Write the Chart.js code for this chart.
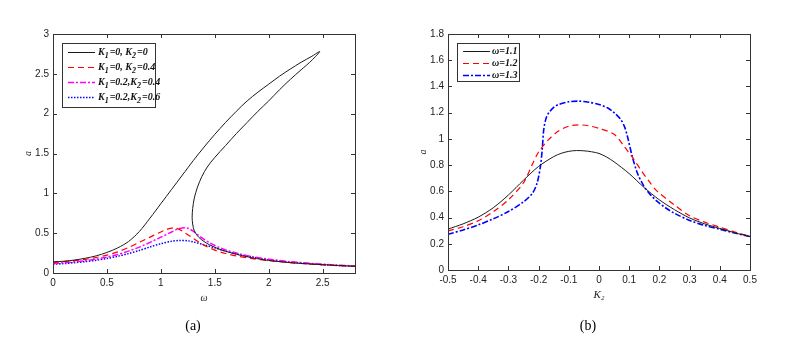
<!DOCTYPE html>
<html><head><meta charset="utf-8">
<script src="https://cdn.jsdelivr.net/npm/chart.js@4.4.0/dist/chart.umd.min.js"></script>
<style>
html,body{margin:0;padding:0;background:#fff;}
#wrap{position:relative;width:794px;height:339px;overflow:hidden;background:#fff;}
.cv{position:absolute;top:0;width:397px;height:339px;}
.cap{position:absolute;font-family:"Liberation Serif","Times New Roman",serif;font-size:14px;color:#000;transform:translate(-50%,-50%);white-space:nowrap;}
</style></head><body>
<div id="wrap">
<div class="cv" style="left:0"><canvas id="ca" width="397" height="339"></canvas></div>
<div class="cv" style="left:397px"><canvas id="cb" width="397" height="339"></canvas></div>
<div class="cap" style="left:193px;top:326px">(a)</div>
<div class="cap" style="left:588px;top:326px">(b)</div>
</div>
<script>
// ---------- Chart (a): amplitude a vs frequency omega ----------
const labelsA = ["K₁=0, K₂=0", "K₁=0, K₂=0.4", "K₁=0.2,K₂=0.4", "K₁=0.2,K₂=0.6"];
const omegaA1 = [0,0.1,0.2,0.3,0.4,0.5,0.6,0.7,0.8,0.9,1.0,1.1,1.2,1.3,1.4,1.5,1.6,1.7,1.8,1.9,2.0,2.1,2.2,2.3,2.4,2.473,
                 2.4,2.3,2.2,2.1,2.0,1.9,1.8,1.7,1.6,1.5,1.43,1.38,1.34,1.31,1.295,1.29,1.295,1.31,1.35,1.4,1.45,1.55,1.7,1.85,2.0,2.2,2.4,2.6,2.8];
const ampA1   = [0.14,0.148,0.163,0.185,0.215,0.258,0.315,0.395,0.52,0.69,0.87,1.05,1.23,1.41,1.58,1.74,1.89,2.03,2.16,2.27,2.37,2.47,2.56,2.645,2.72,2.78,
                 2.67,2.55,2.43,2.30,2.16,2.03,1.89,1.75,1.60,1.45,1.33,1.21,1.08,0.94,0.81,0.70,0.615,0.53,0.45,0.395,0.355,0.295,0.235,0.19,0.158,0.13,0.112,0.097,0.084];
const omegaA2 = [0,0.1,0.2,0.3,0.4,0.5,0.6,0.7,0.8,0.9,1.0,1.05,1.1,1.13,1.2,1.25,1.3,1.35,1.4,1.5,1.6,1.7,1.85,2.0,2.2,2.4,2.6,2.8];
const ampA2   = [0.133,0.142,0.155,0.172,0.195,0.225,0.265,0.32,0.385,0.45,0.515,0.545,0.563,0.567,0.525,0.48,0.435,0.39,0.35,0.287,0.245,0.215,0.18,0.155,0.13,0.11,0.095,0.083];
const omegaA3 = [0,0.1,0.2,0.3,0.4,0.5,0.6,0.7,0.8,0.9,1.0,1.1,1.15,1.2,1.25,1.3,1.35,1.4,1.45,1.5,1.6,1.7,1.85,2.0,2.2,2.4,2.6,2.8];
const ampA3   = [0.12,0.128,0.14,0.155,0.175,0.20,0.233,0.275,0.325,0.385,0.45,0.515,0.548,0.566,0.562,0.525,0.472,0.422,0.38,0.345,0.29,0.25,0.205,0.173,0.142,0.12,0.102,0.088];
const omegaA4 = [0,0.1,0.2,0.3,0.4,0.5,0.6,0.7,0.8,0.9,1.0,1.1,1.17,1.25,1.3,1.4,1.5,1.6,1.7,1.85,2.0,2.2,2.4,2.6,2.8];
const ampA4   = [0.11,0.118,0.13,0.143,0.16,0.183,0.21,0.243,0.283,0.327,0.368,0.398,0.408,0.404,0.39,0.355,0.315,0.275,0.24,0.20,0.165,0.135,0.115,0.098,0.085];
const ticksAX = [0,0.5,1,1.5,2,2.5];
const ticksAY = [0,0.5,1,1.5,2,2.5,3];

// ---------- Chart (b): amplitude a vs K2 ----------
const labelsB = ["ω=1.1", "ω=1.2", "ω=1.3"];
const k2B1  = [-0.5,-0.45,-0.4,-0.35,-0.3,-0.25,-0.2,-0.15,-0.125,-0.1,-0.075,-0.05,-0.025,0,0.025,0.05,0.1,0.15,0.2,0.25,0.3,0.35,0.4,0.45,0.5];
const ampB1 = [0.312,0.352,0.403,0.475,0.572,0.685,0.79,0.865,0.89,0.905,0.911,0.909,0.902,0.889,0.862,0.825,0.735,0.628,0.535,0.46,0.397,0.352,0.317,0.284,0.255];
const k2B2  = [-0.5,-0.45,-0.4,-0.35,-0.3,-0.25,-0.222,-0.2,-0.167,-0.134,-0.1,-0.067,-0.034,0,0.05,0.083,0.116,0.138,0.166,0.193,0.249,0.3,0.35,0.4,0.45,0.5];
const ampB2 = [0.298,0.33,0.375,0.445,0.536,0.665,0.80,0.9,0.995,1.06,1.097,1.107,1.10,1.08,1.035,0.944,0.842,0.765,0.676,0.60,0.497,0.413,0.365,0.327,0.29,0.255];
const k2B3  = [-0.5,-0.45,-0.4,-0.35,-0.3,-0.25,-0.22,-0.205,-0.194,-0.188,-0.183,-0.175,-0.166,-0.15,-0.133,-0.1,-0.067,-0.034,0,0.028,0.05,0.072,0.085,0.094,0.11,0.127,0.149,0.17,0.193,0.22,0.249,0.3,0.35,0.4,0.45,0.5];
const ampB3 = [0.273,0.305,0.344,0.39,0.446,0.52,0.587,0.663,0.79,0.918,1.07,1.16,1.20,1.24,1.263,1.283,1.288,1.28,1.263,1.237,1.2,1.148,1.09,1.02,0.867,0.74,0.638,0.575,0.523,0.475,0.434,0.378,0.34,0.311,0.282,0.255];
const ticksBX = [-0.5,-0.4,-0.3,-0.2,-0.1,0,0.1,0.2,0.3,0.4,0.5];
const ticksBY = [0,0.2,0.4,0.6,0.8,1,1.2,1.4,1.6,1.8];

const pts = (xs, ys) => xs.map((x, i) => ({x: x, y: ys[i]}));
const fmt = v => String(Number(v.toFixed(3)));

const SUB = {'₀':'0','₁':'1','₂':'2','₃':'3','₄':'4','₅':'5','₆':'6','₇':'7','₈':'8','₉':'9'};
function drawSubText(ctx, text, x, y, size, style) {
  let cx = x;
  ctx.textBaseline = 'middle';
  ctx.textAlign = 'left';
  for (const ch of text) {
    if (SUB[ch]) {
      ctx.font = style + ' ' + Math.round(size * 0.8) + 'px "Liberation Serif", serif';
      ctx.fillText(SUB[ch], cx, y + size * 0.35);
      cx += ctx.measureText(SUB[ch]).width + 1;
    } else {
      ctx.font = style + ' ' + size + 'px "Liberation Serif", serif';
      ctx.fillText(ch, cx, y);
      cx += ctx.measureText(ch).width;
    }
  }
}

const boxTicks = {
  id: 'boxTicks',
  afterDatasetsDraw(chart) {
    const {ctx, chartArea: a, scales} = chart;
    const L = 4;
    ctx.save();
    ctx.strokeStyle = '#333';
    ctx.lineWidth = 1;
    ctx.setLineDash([]);
    ctx.beginPath();
    scales.x.ticks.forEach(t => {
      const px = Math.round(scales.x.getPixelForValue(t.value)) + 0.5;
      ctx.moveTo(px, a.bottom); ctx.lineTo(px, a.bottom - L);
      ctx.moveTo(px, a.top); ctx.lineTo(px, a.top + L);
    });
    scales.y.ticks.forEach(t => {
      const py = Math.round(scales.y.getPixelForValue(t.value)) + 0.5;
      ctx.moveTo(a.left, py); ctx.lineTo(a.left + L, py);
      ctx.moveTo(a.right, py); ctx.lineTo(a.right - L, py);
    });
    ctx.stroke();
    ctx.strokeRect(Math.round(a.left) + 0.5, Math.round(a.top) + 0.5, Math.round(a.right - a.left), Math.round(a.bottom - a.top));
    ctx.restore();
  }
};

const boxLegend = {
  id: 'boxLegend',
  afterDraw(chart, args, o) {
    const ctx = chart.ctx, a = chart.chartArea;
    const x0 = Math.round(a.left + o.dx), y0 = Math.round(a.top + o.dy);
    ctx.save();
    ctx.fillStyle = '#fff';
    ctx.fillRect(x0, y0, o.w, o.h);
    ctx.strokeStyle = '#333'; ctx.lineWidth = 1;
    ctx.strokeRect(x0 + 0.5, y0 + 0.5, o.w, o.h);
    chart.data.datasets.forEach((ds, i) => {
      const y = Math.round(y0 + o.first + i * o.step) + 0.5;
      ctx.beginPath();
      ctx.strokeStyle = ds.borderColor;
      ctx.lineWidth = ds.borderWidth;
      ctx.setLineDash(ds.borderDash || []);
      ctx.moveTo(x0 + o.lx0, y); ctx.lineTo(x0 + o.lx1, y);
      ctx.stroke();
      ctx.setLineDash([]);
      ctx.fillStyle = '#111';
      drawSubText(ctx, ds.label, x0 + o.tx, y, o.size, o.style);
    });
    ctx.restore();
  }
};

function makeChart(id, datasets, cfg) {
  return new Chart(document.getElementById(id), {
    type: 'scatter',
    data: {datasets: datasets},
    plugins: [boxTicks, boxLegend],
    options: {
      responsive: false,
      animation: false,
      devicePixelRatio: 1,
      layout: {padding: cfg.pad},
      elements: {point: {radius: 0, hoverRadius: 0}, line: {fill: false}},
      plugins: {legend: {display: false}, tooltip: {enabled: false}, boxLegend: cfg.legend},
      scales: {
        x: {
          type: 'linear', min: cfg.xr[0], max: cfg.xr[1],
          afterBuildTicks: s => { s.ticks = cfg.xt.map(v => ({value: v})); },
          afterFit: s => { s.height = cfg.xH; },
          grid: {display: false, drawTicks: false},
          border: {display: false},
          ticks: {callback: fmt, padding: 4, maxRotation: 0, autoSkip: false, color: '#222', font: {family: '"Liberation Sans", Arial, sans-serif', size: 10}},
          title: {display: true, text: cfg.xTitle, padding: 0, color: '#222', font: {family: '"Liberation Serif", serif', size: cfg.xTitleSize, style: 'italic'}}
        },
        y: {
          type: 'linear', min: cfg.yr[0], max: cfg.yr[1],
          afterBuildTicks: s => { s.ticks = cfg.yt.map(v => ({value: v})); },
          afterFit: s => { s.width = cfg.yW; },
          grid: {display: false, drawTicks: false},
          border: {display: false},
          ticks: {callback: fmt, padding: 4, autoSkip: false, color: '#222', font: {family: '"Liberation Sans", Arial, sans-serif', size: 10}},
          title: {display: true, text: 'a', padding: 0, color: '#222', font: {family: '"Liberation Serif", serif', size: 10, style: 'italic'}}
        }
      }
    }
  });
}

makeChart('ca', [
  {label: labelsA[0], data: pts(omegaA1, ampA1), showLine: true, borderColor: '#1a1a1a', borderWidth: 1, tension: 0.3},
  {label: labelsA[1], data: pts(omegaA2, ampA2), showLine: true, borderColor: '#ff0000', borderWidth: 1.2, borderDash: [6, 4], tension: 0.3},
  {label: labelsA[2], data: pts(omegaA3, ampA3), showLine: true, borderColor: '#ff00ff', borderWidth: 1.5, borderDash: [6, 2, 2, 2], tension: 0.3},
  {label: labelsA[3], data: pts(omegaA4, ampA4), showLine: true, borderColor: '#0000ff', borderWidth: 1.5, borderDash: [1.5, 1.5], tension: 0.3}
], {
  pad: {left: 22, right: 42, top: 34, bottom: 35},
  yW: 31, xH: 31,
  xr: [0, 2.8], yr: [0, 3], xt: ticksAX, yt: ticksAY,
  xTitle: 'ω', xTitleSize: 10,
  legend: {dx: 9, dy: 9, w: 93, h: 64, first: 9, step: 15.1, lx0: 6, lx1: 33, tx: 36, size: 10, style: 'italic bold'}
});

makeChart('cb', [
  {label: labelsB[0], data: pts(k2B1, ampB1), showLine: true, borderColor: '#1a1a1a', borderWidth: 1, tension: 0.3},
  {label: labelsB[1], data: pts(k2B2, ampB2), showLine: true, borderColor: '#ff0000', borderWidth: 1.2, borderDash: [6, 4], tension: 0.3},
  {label: labelsB[2], data: pts(k2B3, ampB3), showLine: true, borderColor: '#0000ff', borderWidth: 1.6, borderDash: [6, 2, 2, 2], tension: 0.3}
], {
  pad: {left: 20, right: 44, top: 34, bottom: 37},
  yW: 31, xH: 32,
  xr: [-0.5, 0.5], yr: [0, 1.8], xt: ticksBX, yt: ticksBY,
  xTitle: 'K₂', xTitleSize: 11,
  legend: {dx: 9, dy: 9, w: 62, h: 38, first: 8.4, step: 11.7, lx0: 6, lx1: 33, tx: 35, size: 10, style: 'italic bold'}
});
</script>
</body></html>
